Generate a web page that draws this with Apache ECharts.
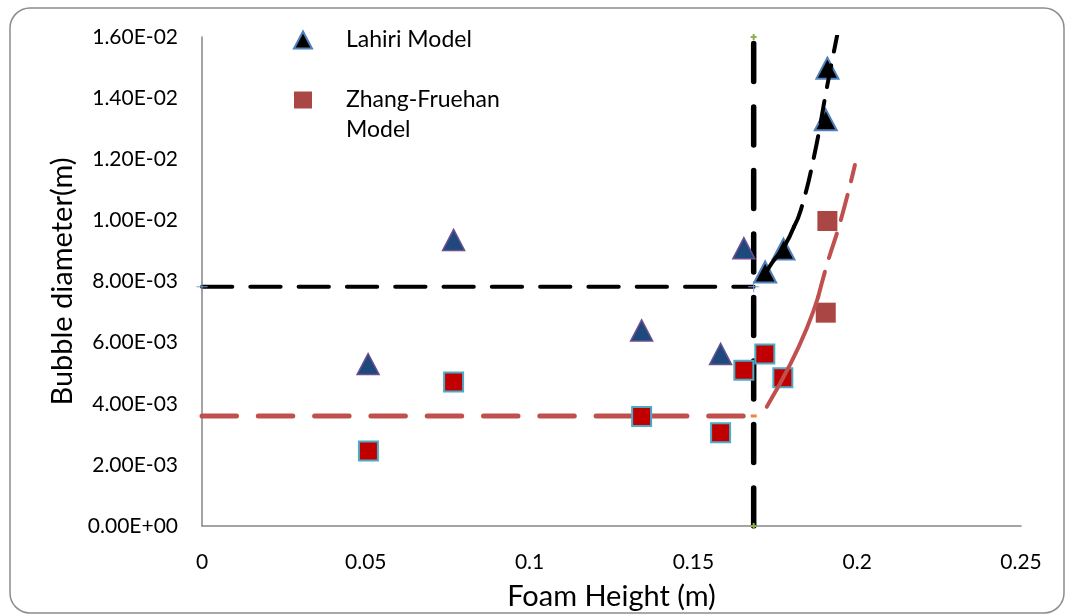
<!DOCTYPE html>
<html>
<head>
<meta charset="utf-8">
<script src="https://cdn.jsdelivr.net/npm/echarts@6/dist/echarts.min.js"></script>
<style>
  html, body { margin: 0; padding: 0; background: #ffffff; }
  #chart { width: 1072px; height: 614px; }
</style>
</head>
<body>
<div id="chart"></div>
<script>
// Axis tick labels
const xTickLabels = ['0', '0.05', '0.1', '0.15', '0.2', '0.25'];
const yTickLabels = ['0.00E+00', '2.00E-03', '4.00E-03', '6.00E-03', '8.00E-03',
                     '1.00E-02', '1.20E-02', '1.40E-02', '1.60E-02'];

// Lahiri model: points in the steep region (legend entry) and at lower heights
const lahiriPoints = [[0.1719, 0.00831], [0.1775, 0.00906], [0.1904, 0.01329], [0.1909, 0.01498]];
const lahiriLowPoints = [[0.0507, 0.00530], [0.0768, 0.00936], [0.1342, 0.00640],
                         [0.1583, 0.00563], [0.1654, 0.00909]];

// Zhang-Fruehan model: points at lower heights and in the steep region (legend entry)
const zhangLowPoints = [[0.0508, 0.00245], [0.0768, 0.00471], [0.1342, 0.00358], [0.1583, 0.00305],
                        [0.1654, 0.00510], [0.1718, 0.00563], [0.1773, 0.00485]];
const zhangPoints = [[0.1909, 0.00998], [0.1904, 0.00698]];

// Reference levels and the critical foam height
const lahiriLevel = [[0, 0.00783], [0.1684, 0.00783]];
const zhangLevel = [[0, 0.00360], [0.1684, 0.00360]];
const criticalHeight = [[0.1684, 0], [0.1684, 0.016]];

// Trend curves through the steep region
const lahiriHook = [[0.1721, 0.00828], [0.1742, 0.00864], [0.1777, 0.00914], [0.1807, 0.00979]];
const lahiriTrend = [[0.1807, 0.00979], [0.1828, 0.01034], [0.1868, 0.01208], [0.1909, 0.01443], [0.1940, 0.01612]];
const zhangTrendSolid = [[0.1724, 0.00390], [0.1797, 0.00532], [0.1848, 0.00652], [0.1881, 0.00750]];
const zhangTrendDashed = [[0.1881, 0.00750], [0.1909, 0.00860], [0.1950, 0.01001], [0.1993, 0.01181]];

const FONT = 'Lato, "Open Sans", sans-serif';
const plusIcon = 'path://M2,0H4V2H6V4H4V6H2V4H0V2H2Z';
const crossIcon = 'path://M5,0H6V11H5Z M0,5H11V6H0Z';

const chart = echarts.init(document.getElementById('chart'), null, { renderer: 'canvas' });

chart.setOption({
  animation: false,
  backgroundColor: '#ffffff',
  textStyle: { fontFamily: FONT },
  graphic: [{
    type: 'rect',
    z: -10,
    shape: { x: 10, y: 8, width: 1054, height: 605, r: 20 },
    style: { fill: 'none', stroke: '#8c8c8c', lineWidth: 1.5 }
  }],
  grid: { left: 202, right: 51, top: 37, bottom: 88, containLabel: false, outerBoundsMode: 'none' },
  legend: {
    left: 293,
    top: 25,
    padding: 0,
    orient: 'vertical',
    itemGap: 0,
    itemWidth: 18,
    itemHeight: 17,
    selectedMode: false,
    textStyle: { fontFamily: FONT, fontSize: 23, color: '#000', lineHeight: 30, padding: [0, 0, 0, 29] },
    data: [
      { name: 'Lahiri Model', icon: 'triangle' },
      { name: 'Zhang-Fruehan Model', icon: 'rect' }
    ],
    formatter: function (name) {
      return name === 'Zhang-Fruehan Model' ? '\nZhang-Fruehan\nModel' : name;
    }
  },
  xAxis: {
    type: 'value',
    min: 0, max: 0.25, interval: 0.05,
    name: 'Foam Height (m)',
    nameLocation: 'middle',
    nameGap: 56,
    nameTextStyle: { fontFamily: FONT, fontSize: 29, color: '#000' },
    axisLine: { show: true, lineStyle: { color: '#868686', width: 1.5 } },
    axisTick: { show: false },
    splitLine: { show: false },
    axisLabel: {
      margin: 26, fontSize: 21, color: '#000', fontFamily: FONT,
      formatter: function (v, i) { return xTickLabels[i]; }
    }
  },
  yAxis: {
    type: 'value',
    min: 0, max: 0.016, interval: 0.002,
    name: 'Bubble diameter(m)',
    nameLocation: 'middle',
    nameGap: 117,
    nameTextStyle: { fontFamily: FONT, fontSize: 29, color: '#000' },
    axisLine: { show: true, lineStyle: { color: '#868686', width: 1.5 } },
    axisTick: { show: false },
    splitLine: { show: false },
    axisLabel: {
      margin: 24, fontSize: 21, color: '#000', fontFamily: FONT,
      formatter: function (v, i) { return yTickLabels[i]; }
    }
  },
  series: [
    {
      name: 'Lahiri level', type: 'line', data: lahiriLevel, z: 2,
      symbol: crossIcon, symbolSize: 11, showSymbol: true,
      itemStyle: { color: '#7f9fd0' },
      lineStyle: { color: '#000', width: 4, type: [30.3, 18], cap: 'round' }
    },
    {
      name: 'Zhang level', type: 'line', z: 2,
      data: [zhangLevel[0], { value: zhangLevel[1], symbol: 'rect', symbolSize: [6, 3] }],
      symbol: 'none', showSymbol: true,
      itemStyle: { color: '#e8883a' },
      lineStyle: { color: '#c0504d', width: 5, type: [34.5, 21.8], cap: 'round' }
    },
    {
      name: 'Critical height', type: 'line', data: criticalHeight, z: 2, clip: false,
      symbol: plusIcon, symbolSize: 6, showSymbol: true,
      itemStyle: { color: '#8db04a' },
      lineStyle: { color: '#000', width: 5.5, type: [38, 25.5], cap: 'round' }
    },
    {
      name: 'Lahiri low', type: 'scatter', data: lahiriLowPoints, z: 3,
      symbol: 'triangle', symbolSize: [22, 21],
      itemStyle: { color: '#1f497d', borderColor: '#6a5090', borderWidth: 1.5, opacity: 1 }
    },
    {
      name: 'Zhang low', type: 'scatter', data: zhangLowPoints, z: 3,
      symbol: 'rect', symbolSize: 19,
      itemStyle: { color: '#c00000', borderColor: '#4bacc6', borderWidth: 2, opacity: 1 }
    },
    {
      name: 'Zhang-Fruehan Model', type: 'scatter', data: zhangPoints, z: 3,
      symbol: 'rect', symbolSize: 20,
      itemStyle: { color: '#aa4643', opacity: 1 }
    },
    {
      name: 'Lahiri Model', type: 'scatter', data: lahiriPoints, z: 3,
      symbol: 'triangle', symbolSize: [22, 21],
      itemStyle: { color: '#000000', borderColor: '#4f81bd', borderWidth: 2, opacity: 1 }
    },
    {
      name: 'Zhang trend', type: 'line', data: zhangTrendSolid, z: 4, smooth: true,
      symbol: 'none',
      lineStyle: { color: '#c0504d', width: 4, cap: 'round' }
    },
    {
      name: 'Zhang trend upper', type: 'line', data: zhangTrendDashed, z: 4, smooth: true,
      symbol: 'none',
      lineStyle: { color: '#c0504d', width: 4, type: [26, 14], cap: 'round' }
    },
    {
      name: 'Lahiri hook', type: 'line', data: lahiriHook, z: 4, smooth: true,
      symbol: 'none',
      lineStyle: { color: '#000', width: 4, cap: 'round' }
    },
    {
      name: 'Lahiri trend', type: 'line', data: lahiriTrend, z: 4, smooth: true,
      symbol: 'none',
      lineStyle: { color: '#000', width: 4, type: [22, 14], cap: 'round' }
    }
  ]
});
</script>
</body>
</html>
